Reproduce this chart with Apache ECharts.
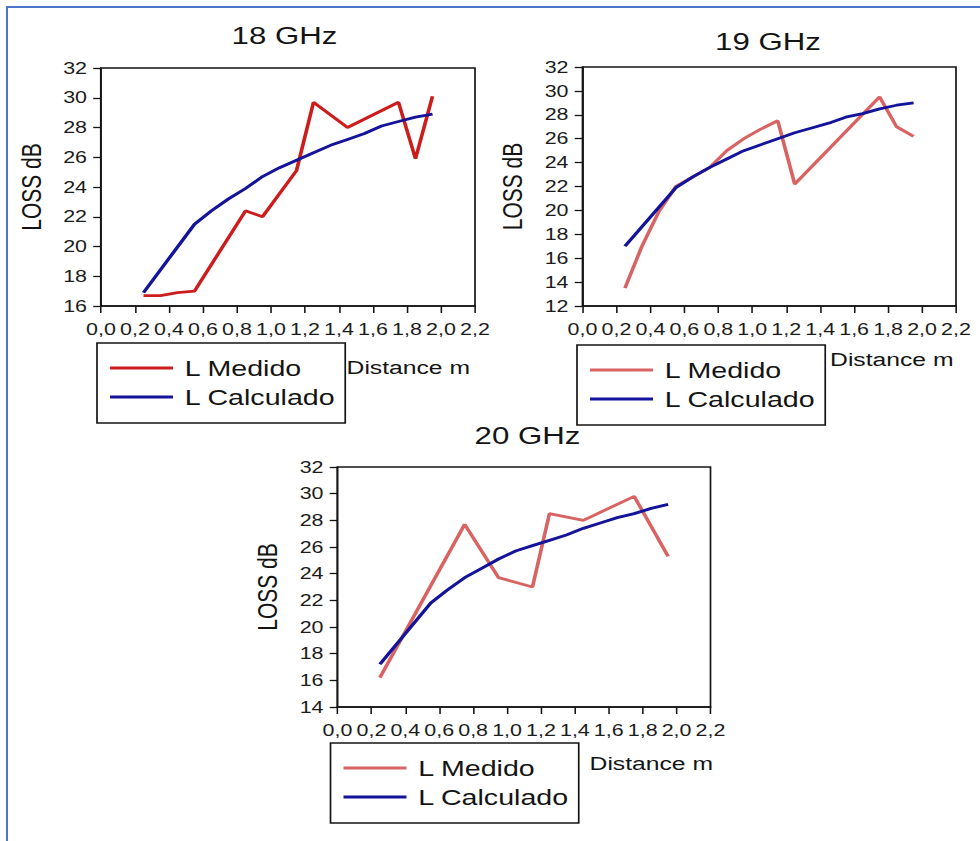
<!DOCTYPE html>
<html>
<head>
<meta charset="utf-8">
<script src="https://cdn.jsdelivr.net/npm/echarts@6/dist/echarts.min.js"></script>
<style>
  html, body { margin: 0; padding: 0; background: #fff; width: 980px; height: 841px; overflow: hidden; }
  #frame { position: absolute; left: 6px; top: 6px; width: 990px; height: 850px;
           border-left: 2.5px solid #4a77c9; border-top: 2.5px solid #4a77c9; }
  /* the drawing is laid out narrow and widened horizontally */
  #chart { position: absolute; left: 0; top: 0; width: 753.85px; height: 841px;
           transform: scaleX(1.3); transform-origin: 0 0; }
</style>
</head>
<body>
<div id="frame"></div>
<div id="chart"></div>
<script>
// ---- measured path loss (L Medido) ----
const medido18Dist = [0.25, 0.35, 0.45, 0.55, 0.85, 0.95, 1.15, 1.25, 1.45, 1.75, 1.85, 1.95];
const medido18Loss = [16.7, 16.7, 16.9, 17.0, 22.4, 22.0, 25.1, 29.7, 28.0, 29.7, 25.9, 30.1];

const medido19Dist = [0.25, 0.35, 0.45, 0.55, 0.65, 0.75, 0.85, 0.95, 1.05, 1.15, 1.25, 1.75, 1.85, 1.95];
const medido19Loss = [13.5, 17.0, 19.9, 22.0, 22.8, 23.6, 25.0, 26.0, 26.8, 27.5, 22.2, 29.5, 27.0, 26.2];

const medido20Dist = [0.25, 0.75, 0.95, 1.15, 1.25, 1.45, 1.75, 1.95];
const medido20Loss = [16.2, 27.7, 23.7, 23.0, 28.5, 28.0, 29.8, 25.3];

// ---- calculated path loss (L Calculado) ----
const calcDist   = [0.25, 0.55, 0.65, 0.75, 0.85, 0.95, 1.05, 1.15, 1.25, 1.35, 1.45, 1.55, 1.65, 1.75, 1.85, 1.95];
const calc18Loss = [16.9, 21.5, 22.4, 23.2, 23.9, 24.7, 25.3, 25.8, 26.3, 26.8, 27.2, 27.6, 28.1, 28.4, 28.7, 28.9];
const calc19Loss = [17.0, 21.9, 22.8, 23.6, 24.3, 25.0, 25.5, 26.0, 26.5, 26.9, 27.3, 27.8, 28.1, 28.5, 28.8, 29.0];
const calc20Loss = [17.2, 21.8, 22.8, 23.7, 24.4, 25.1, 25.7, 26.1, 26.5, 26.9, 27.4, 27.8, 28.2, 28.5, 28.9, 29.2];

// ---- labels and axis ranges ----
const panelTitles = ['18 GHz', '19 GHz', '20 GHz'];
const seriesNames = ['L Medido', 'L Calculado'];
const xAxisName = 'Distance m';
const yAxisName = 'LOSS dB';
const distMin = 0, distMax = 2.2, distStep = 0.2;
const lossMins = [16, 12, 14];
const lossMax = 32, lossStep = 2;

const FONT = '"Liberation Sans", Arial, Helvetica, sans-serif';
const SX = 1.3;                  // horizontal widening applied to #chart
const hx = px => px / SX;        // page px -> chart px (horizontal only)
const BLUE = '#14149a';
const INK = '#141414';

function pairs(xs, ys) { return xs.map((x, i) => [x, ys[i]]); }
const commaDecimal = v => v.toFixed(1).replace('.', ',');

// panel layout in page pixels
const panels = [
  { left: 101,   top: 68,  width: 374,   height: 238, titleX: 284.5, titleTop: 24,
    legLeft: 97,  legTop: 343, nameDx: -5,  nameDy: 52, red: '#cc1c1c',
    medido: pairs(medido18Dist, medido18Loss), calc: pairs(calcDist, calc18Loss) },
  { left: 582.5, top: 67,  width: 373.5, height: 239, titleX: 768,   titleTop: 30,
    legLeft: 577, legTop: 345, nameDx: -2.5, nameDy: 44, red: '#d96262',
    medido: pairs(medido19Dist, medido19Loss), calc: pairs(calcDist, calc19Loss) },
  { left: 337.5, top: 467, width: 373,   height: 240, titleX: 527.5, titleTop: 424,
    legLeft: 330.5, legTop: 743, nameDx: 2.5, nameDy: 47, red: '#d96262',
    medido: pairs(medido20Dist, medido20Loss), calc: pairs(calcDist, calc20Loss) }
];

const option = {
  animation: false,
  backgroundColor: 'transparent',
  title: panels.map((p, i) => ({
    text: panelTitles[i],
    left: hx(p.titleX), top: p.titleTop,
    textAlign: 'center', textVerticalAlign: 'top', padding: 0,
    textStyle: { fontSize: 24, fontWeight: 'normal', color: INK, fontFamily: FONT }
  })),
  legend: panels.map(p => ({
    orient: 'vertical',
    left: hx(p.legLeft), top: p.legTop,
    selectedMode: false,
    icon: 'rect', itemWidth: hx(63), itemHeight: 3, itemGap: 7,
    padding: [14, 7.3, 15, 10],
    borderColor: INK, borderWidth: 1.3,
    textStyle: { fontSize: 22, color: INK, fontFamily: FONT, padding: [0, 0, 0, 4] },
    data: [
      { name: seriesNames[0], itemStyle: { color: p.red, borderWidth: 0 } },
      { name: seriesNames[1], itemStyle: { color: BLUE, borderWidth: 0 } }
    ]
  })),
  grid: panels.map(p => ({
    left: hx(p.left), top: p.top, width: hx(p.width), height: p.height,
    show: true, borderColor: INK, borderWidth: 1.3, backgroundColor: 'transparent',
    containLabel: false, outerBoundsMode: 'none'
  })),
  xAxis: panels.map((p, i) => ({
    gridIndex: i, type: 'value', min: distMin, max: distMax, interval: distStep,
    axisLine: { show: true, onZero: false, lineStyle: { color: INK, width: 1.5 } },
    axisTick: { show: true, inside: false, length: 7, lineStyle: { color: INK, width: 1.2 } },
    axisLabel: { margin: 15, fontSize: 16.5, color: '#1c1c1c', fontFamily: FONT,
                 formatter: commaDecimal, showMinLabel: true, showMaxLabel: true, hideOverlap: false },
    splitLine: { show: false },
    name: xAxisName, nameLocation: 'end', nameGap: hx(p.nameDx),
    nameTextStyle: { fontSize: 19, color: INK, fontFamily: FONT,
                     align: 'right', verticalAlign: 'top', padding: [p.nameDy, 0, 0, 0] }
  })),
  yAxis: panels.map((p, i) => ({
    gridIndex: i, type: 'value', min: lossMins[i], max: lossMax, interval: lossStep,
    axisLine: { show: true, onZero: false, lineStyle: { color: INK, width: 1.3 } },
    axisTick: { show: true, inside: false, length: 6, lineStyle: { color: INK, width: 1.3 } },
    axisLabel: { margin: hx(14), fontSize: 16.5, color: '#1c1c1c', fontFamily: FONT,
                 showMinLabel: true, showMaxLabel: true, hideOverlap: false },
    splitLine: { show: false },
    name: yAxisName, nameLocation: 'middle', nameGap: 43,
    nameTextStyle: { fontSize: 21, color: INK, fontFamily: FONT }
  })),
  series: panels.flatMap((p, i) => [
    { type: 'line', name: seriesNames[0], xAxisIndex: i, yAxisIndex: i,
      data: p.medido, symbol: 'none', showSymbol: false,
      lineStyle: { color: p.red, width: 2.8 }, itemStyle: { color: p.red }, z: 2 },
    { type: 'line', name: seriesNames[1], xAxisIndex: i, yAxisIndex: i,
      data: p.calc, symbol: 'none', showSymbol: false,
      lineStyle: { color: BLUE, width: 2.8 }, itemStyle: { color: BLUE }, z: 3 }
  ])
};

const chart = echarts.init(document.getElementById('chart'), null, { renderer: 'svg' });
chart.setOption(option);
</script>
</body>
</html>
